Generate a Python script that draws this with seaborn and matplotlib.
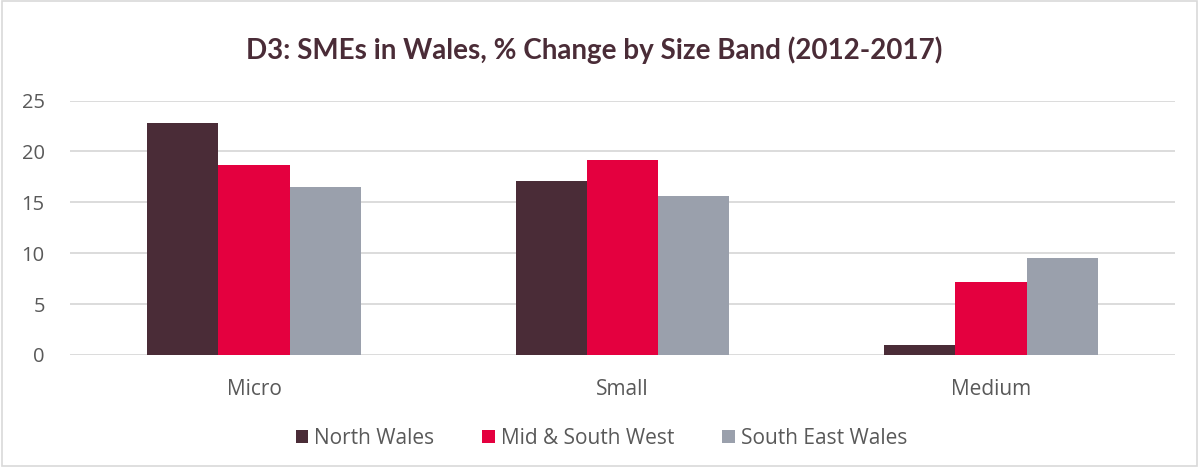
import matplotlib
matplotlib.use("Agg")
import matplotlib.pyplot as plt
import seaborn as sns
import pandas as pd
from matplotlib.patches import Rectangle

# Percentage change in SME counts by size band, 2012-2017
size_bands = ["Micro", "Small", "Medium"]
regions = ["North Wales", "Mid & South West", "South East Wales"]
north_wales = [22.8, 17.1, 1.0]
mid_south_west = [18.7, 19.2, 7.2]
south_east_wales = [16.5, 15.6, 9.5]
y_ticks = [0, 5, 10, 15, 20, 25]

colors = ["#4A2C37", "#E4003F", "#9AA0AC"]
text_color = "#595959"

rows = []
for region, values in zip(regions, [north_wales, mid_south_west, south_east_wales]):
    for band, v in zip(size_bands, values):
        rows.append({"band": band, "region": region, "value": v})
df = pd.DataFrame(rows)

sns.set_theme(style="white")
plt.rcParams["font.family"] = ["Open Sans", "DejaVu Sans"]

fig = plt.figure(figsize=(12.03, 4.68), dpi=100)
ax = fig.add_axes([0.058, 0.2415, 0.919, 0.5435])

sns.barplot(data=df, x="band", y="value", hue="region", order=size_bands,
            hue_order=regions, palette=colors, width=0.58, saturation=1,
            errorbar=None, linewidth=0, ax=ax, legend=False, zorder=3)

ax.set_ylim(0, 25)
ax.set_yticks(y_ticks)
ax.set_xlim(-0.5, 2.5)
ax.grid(axis="y", color="#D9D9D9", linewidth=1.3, zorder=0)
ax.set_axisbelow(True)
for s in ax.spines.values():
    s.set_visible(False)
ax.set_xlabel("")
ax.set_ylabel("")
ax.tick_params(axis="y", labelsize=14.5, labelcolor=text_color, length=0, pad=18)
ax.tick_params(axis="x", labelsize=15, labelcolor=text_color, length=0, pad=17)

fig.text(0.494, 0.893, "D3: SMEs in Wales, % Change by Size Band (2012-2017)",
         ha="center", va="center", fontsize=20, fontweight="bold",
         color="#4A2C37", family=["Lato", "DejaVu Sans"])

handles = [Rectangle((0, 0), 1, 1, facecolor=c, edgecolor="none") for c in colors]
fig.legend(handles, regions, loc="center", bbox_to_anchor=(0.5, 0.063), ncol=3,
           frameon=False, fontsize=15, labelcolor=text_color,
           handlelength=0.6, handleheight=0.6, handletextpad=0.3,
           columnspacing=2.3)

fig.patches.append(Rectangle((0.002, 0.004), 0.993, 0.994, transform=fig.transFigure,
                             fill=False, edgecolor="#D9D9D9", linewidth=1.2))

fig.savefig("out.png", dpi=100)
